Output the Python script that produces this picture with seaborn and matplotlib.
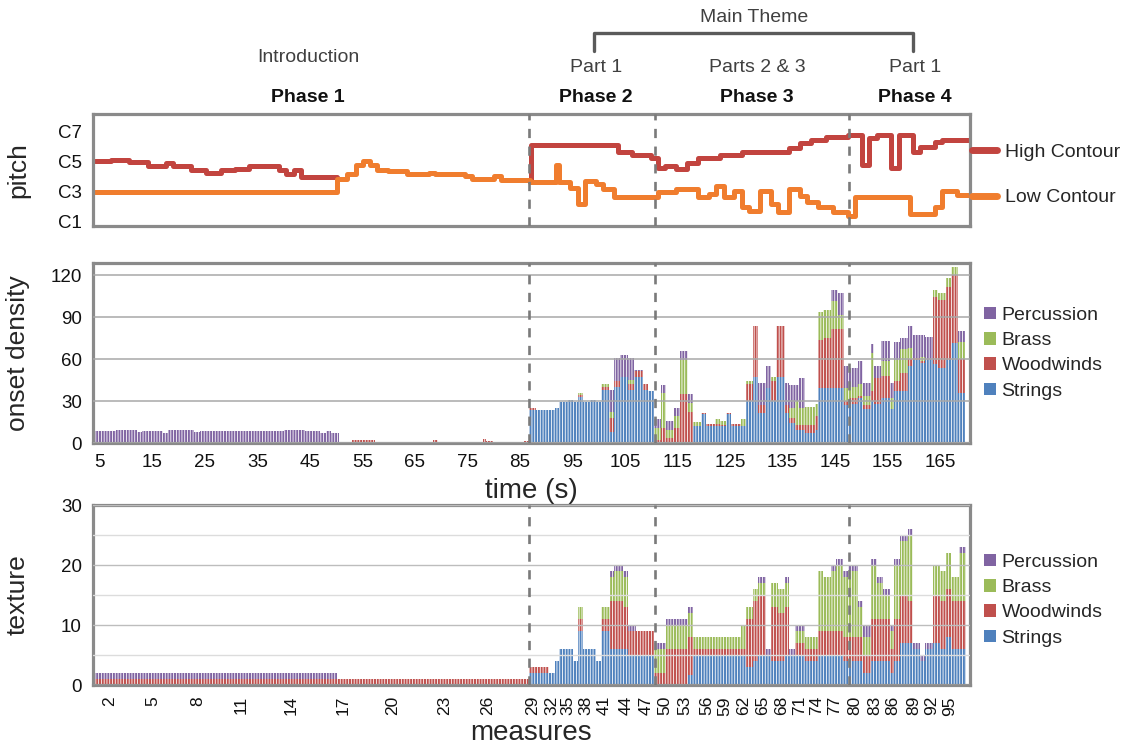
import numpy as np
import pandas as pd
import matplotlib
matplotlib.use("Agg")
import matplotlib.pyplot as plt
from matplotlib.lines import Line2D
from matplotlib.patches import Patch
import seaborn as sns

# ---------------- data ----------------
instruments = ["Percussion", "Brass", "Woodwinds", "Strings"]
inst_colors = ["#8064A2", "#9BBB59", "#C0504D", "#4F81BD"]
high_color = "#C2443F"
low_color = "#F07D2E"

# pitch contours (MIDI note numbers, step changes at given times in s)
high_a_t = [4.0, 7.2, 10.6, 14.1, 17.6, 19.0, 22.4, 25.2, 28.0, 30.8, 33.5, 39.1, 40.5, 41.9, 43.3, 50.2]
high_a_v = [72, 72.8, 71.5, 68, 70.7, 68, 65.5, 63, 65, 66.3, 68, 65.5, 61.6, 65.5, 59.5, 59.5]
high_b_t = [87.0, 87.1, 103.6, 106.4, 109.9, 111.3, 112.7, 114.7, 116.8, 118.9, 123.1, 127.2, 136.3,
            138.3, 140.4, 143.2, 147.4, 150.1, 151.5, 152.9, 155.7, 157.1, 159.9, 161.2, 164.0,
            165.4, 171.0]
high_b_v = [55.6, 85, 79.8, 77, 74.6, 67, 68, 66.2, 70.4, 74.6, 77, 79.3, 82.4,
            86.3, 89, 91.5, 92.8, 69.4, 90.4, 92.8, 67, 92.8, 79.8, 83.7, 87.6,
            89, 89]
low_t = [4.0, 50.2, 52.0, 53.7, 55.1, 56.4, 57.8, 59.9, 63.4, 67.6, 68.9, 74.5, 75.9, 80.0, 81.4,
         87.0, 91.8, 92.5, 94.6, 96.0, 97.4, 99.5, 100.9, 102.9, 111.3, 114.7, 118.9, 121.0,
         122.4, 123.8, 125.8, 127.2, 128.6, 130.7, 132.8, 134.2, 136.3, 138.3, 139.7, 141.8,
         144.6, 147.4, 148.8, 159.2, 164.0, 165.4, 168.2, 171.0]
low_v = [48, 57.7, 61.6, 69.4, 72, 69.4, 65.5, 64.2, 61.6, 62.9, 61.6, 60.3, 57.7, 60.3, 56.9,
         55.6, 69.4, 55.6, 51.2, 38.2, 56.4, 53.8, 49.9, 43.4, 48.1, 50.4, 43.4, 46,
         52.5, 43.4, 48.6, 35.6, 33, 48.6, 38.2, 31.7, 49.9, 44.7, 39.5, 35.6,
         31.7, 29.1, 43.4, 30.4, 35.6, 48.6, 45.7, 45.7]

# onset density (bins in seconds)
onset_edges = [4.0, 8.0, 10.0, 12.0, 13.0, 17.0, 18.0, 20.0, 23.0, 24.0, 40.0, 44.0, 47.0, 48.0, 49.0, 50.5,
               53.0, 57.4, 59.1, 60.1, 62.9, 68.4, 69.4, 71.1, 72.5, 76.6, 77.9, 78.5, 79.9, 83.4, 85.8, 86.7,
               88.1, 91.6, 92.5, 94.1, 95.1, 96.0, 97.0, 98.4, 99.5, 100.5, 101.9, 103.0, 104.0, 105.6,
               106.8, 108.4, 109.4, 110.5, 111.9, 112.9, 114.4, 115.4, 117.0, 117.9, 119.5, 120.5, 122.1,
               123.0, 124.3, 125.2, 127.1, 128.0, 129.4, 130.3, 131.9, 132.8, 133.8, 135.4, 136.3, 137.3,
               138.2, 139.2, 140.5, 141.1, 141.7, 142.7, 144.3, 145.5, 146.8, 147.8, 149.4, 150.3, 151.9,
               152.5, 153.8, 155.4, 156.3, 157.3, 158.9, 159.8, 161.1, 162.1, 163.6, 164.6, 166.2, 167.1,
               168.4, 169.7]
onset_strings = [0] * 15 + [0] * 16 + [
    23.5, 23.3, 25, 29, 31, 29.5, 33, 29.5, 31, 29.5, 38, 8, 40, 47, 38, 47, 38, 37.2, 0, 0, 0, 0, 0, 0,
    12.5, 20.9, 12.5, 12.5, 12.5, 20.4, 12.5, 12.5, 30, 47.3, 21.6, 39.6, 30, 47.3, 21.6, 14.4, 9.6, 9.6,
    7.2, 7.2, 9.6, 39.6, 39.6, 39.6, 39.6, 27, 27.6, 32.4, 24, 30, 27.6, 32.4, 24, 37.2, 37.2, 55, 59.3,
    56.9, 59.3, 56.4, 53.5, 59.3, 71.3, 36]
onset_woodwinds = [0, 1, 0, 0, 0, 0, 1, 0, 0, 0, 1, 0, 0, 0, 0] + \
    [1, 2.5, 1, 0, 1, 0.4, 2.5, 1, 0, 0.8, 0.5, 3, 1.5, 1, 0, 1.5] + [
    1.2, 0, 0, 0, 0, 0, 1.5, 0, 0, 0, 2, 10, 4, 0, 4, 4.5, 4, 0, 2.5, 11, 3.6, 10.8, 35.3, 22, 0, 0.7,
    1.2, 1.2, 0.5, 1.2, 1.2, 0, 12.5, 36.2, 5.4, 0, 14, 36.2, 5.4, 3.6, 3.6, 3.6, 6, 5.5, 9.6, 34.1, 35.5,
    42, 42, 3, 4.8, 1.2, 3, 7, 19.2, 15.6, 0, 7.2, 13.2, 5, 1.7, 2, 0, 48, 48.5, 52.3, 48.7, 24]
onset_brass = [0] * 15 + [0] * 16 + [
    0, 0, 0, 0, 0, 0, 1.5, 0, 0, 0, 2, 4, 0, 0, 3, 0, 0, 0, 8.5, 24.5, 6, 8.4, 24.2, 6.5, 2.5, 0, 0, 3.8,
    2.6, 0, 0, 4.8, 1.9, 0, 0, 0, 3.3, 0, 0, 7.2, 16.8, 12, 12.5, 13.3, 8.4, 19.9, 20.2, 19.9, 9.6, 9.6,
    7.6, 8.4, 6.6, 27, 0, 10.8, 8.4, 14.9, 16.8, 8, 0, 2.4, 0, 5.3, 5.5, 6.4, 5.5, 12]
onset_percussion = [8.5, 8.5, 9, 8, 8.5, 7.5, 8.5, 9, 8, 8.5, 8.5, 8.5, 7.5, 8.5, 7.5] + [0] * 16 + [
    0, 0, 0, 0, 0, 0, 0, 0, 0, 0, 0, 16, 16.5, 16, 16, 1, 0, 0, 6.5, 6, 6.4, 6, 6.5, 6.5,
    0, 0, 0, 0, 0, 0, 0, 0, 0, 0, 16.2, 15.6, 0, 0, 16.2, 16.3, 11.5, 21.1, 0, 0, 0, 0, 0,
    8.2, 16.3, 15.6, 13.5, 16.8, 9.6, 6.8, 8.2, 13.9, 10.8, 12.7, 7.9, 15.5, 16.5, 16.2, 16.3,
    0, 0, 0, 0, 8.4]

# texture (bins in seconds)
texture_edges = [4.0, 50.1, 86.7, 90.6, 91.6, 92.5, 95.1, 96.0, 97.0, 99.5, 100.5, 102.1, 103.0, 104.6,
                 105.6, 107.1, 110.5, 112.9, 117.0, 117.9, 127.1, 128.1, 129.4, 130.3, 131.9, 132.9,
                 134.1, 135.4, 136.3, 137.3, 139.2, 141.7, 142.7, 144.3, 145.2, 146.5, 147.5, 149.4,
                 150.3, 151.9, 152.9, 154.1, 155.4, 156.3, 157.3, 158.9, 159.8, 161.1, 162.1, 163.6,
                 164.9, 166.2, 167.1, 168.7, 170.0]
texture_strings = [0, 0, 2, 2, 4, 6, 4, 9, 6, 4, 9, 6, 6, 6, 5, 5, 0, 0, 1.6, 5, 5, 3, 4, 5, 5, 4, 4,
                   5, 5, 5, 4, 5, 5, 5, 5, 4, 4, 4, 2, 4, 4, 4, 2, 4, 7, 7, 6, 4, 6, 7, 6, 8, 6, 6]
texture_woodwinds = [1, 1, 1, 0, 0, 0, 0, 2, 0, 0, 2, 8, 8, 7, 4, 4, 2, 6, 6.4, 1, 1, 8, 10, 10, 0, 9, 8,
                     8, 0, 2, 2, 4, 4, 4, 4, 4, 4, 4, 3, 7, 7, 7, 4, 7, 8, 7, 0, 0, 0, 8, 8, 8, 8, 8]
texture_brass = [0, 0, 0, 0, 0, 0, 0, 2, 0, 0, 2, 4, 5, 5, 0, 0, 4, 4, 4, 2, 4, 2, 2, 2, 0, 4, 4,
                 4, 0, 2, 2, 10, 9, 10, 11, 10, 11, 5, 3, 9, 6, 4, 3, 9, 9, 11, 0, 0, 0, 5, 5, 6, 4, 8]
texture_percussion = [1, 0, 0, 0, 0, 0, 0, 0, 0, 0, 0, 1, 1, 1, 1, 0, 1, 1, 1, 0, 0, 0, 0, 1, 1, 0, 0,
                      1, 1, 1, 0, 0, 0, 1, 1, 1, 1, 1, 2, 1, 1, 1, 1, 1, 1, 1, 1, 1, 1, 0, 0, 0, 0, 1]

phase_bounds = [86.7, 110.8, 147.6]
time_ticks = list(range(5, 166, 10))
pitch_ticks = [24, 48, 72, 96]
pitch_labels = ["C1", "C3", "C5", "C7"]
measure_label_times = [6.85, 15.1, 23.7, 31.9, 41.4, 51.3, 60.8, 70.7, 78.9, 87.5, 91.0, 94.1, 97.6,
                       101.1, 105.2, 109.1, 112.6, 116.4, 120.5, 124.0, 127.5, 131.3, 134.8, 138.3,
                       141.4, 144.9, 148.7, 152.5, 156.0, 159.9, 163.4, 166.8]
measure_labels = [str(m) for m in range(2, 96, 3)]

# ---------------- style ----------------
sns.set_style("white")
plt.rcParams["font.family"] = ["Liberation Sans", "DejaVu Sans"]
plt.rcParams["hatch.linewidth"] = 0.6

W, H = 1139, 749
fig = plt.figure(figsize=(W / 100, H / 100), dpi=100)

def box(l, t, r, b):
    return [l / W, 1 - b / H, (r - l) / W, (b - t) / H]

ax_top = fig.add_axes(box(93, 114, 970, 226))
ax_mid = fig.add_axes(box(93, 263, 970, 443))
ax_bot = fig.add_axes(box(93, 505, 970, 685))

XLIM = (3.7, 170.7)
spine_c = "#8A8A8A"
dash_c = "#7A7A7A"
palette = dict(zip(instruments, inst_colors))


def style_axes(ax):
    for s in ax.spines.values():
        s.set_color(spine_c)
        s.set_linewidth(2.3)
    ax.tick_params(axis="both", which="both", direction="out", color=spine_c, width=1.6,
                   length=6, labelsize=13.5, labelcolor="#111111", pad=2)
    ax.set_xlim(*XLIM)
    for b in phase_bounds:
        ax.axvline(b, color=dash_c, lw=1.9, ls=(0, (3.5, 3.2)), zorder=5)


def stacked(ax, edges, series):
    edges = [float(e) for e in edges]
    mids = [(a + b) / 2 for a, b in zip(edges[:-1], edges[1:])]
    frames = [pd.DataFrame({"t": mids, "value": vals, "instrument": name})
              for name, vals in series.items()]
    df = pd.concat(frames, ignore_index=True)
    sns.histplot(data=df, x="t", weights="value", hue="instrument", hue_order=instruments,
                 palette=palette, multiple="stack", bins=edges, element="bars", stat="count",
                 alpha=1, linewidth=0, edgecolor="white", hatch="||||||", legend=False, ax=ax)


# ---- top: pitch contours ----
sns.lineplot(x=high_a_t, y=high_a_v, drawstyle="steps-post", color=high_color, lw=3.6,
             estimator=None, ax=ax_top)
sns.lineplot(x=high_b_t, y=high_b_v, drawstyle="steps-post", color=high_color, lw=3.6,
             estimator=None, ax=ax_top)
sns.lineplot(x=low_t, y=low_v, drawstyle="steps-post", color=low_color, lw=3.6,
             estimator=None, ax=ax_top)
style_axes(ax_top)
ax_top.set_ylim(20.8, 109.5)
ax_top.set_yticks(pitch_ticks)
ax_top.set_yticklabels(pitch_labels)
ax_top.set_xticks(time_ticks)
ax_top.set_xticklabels([])
ax_top.set_xlabel("")
ax_top.set_ylabel("pitch", fontsize=19)
ax_top.yaxis.set_label_coords(-0.072, 0.5)

# ---- middle: onset density ----
stacked(ax_mid, onset_edges, {"Percussion": onset_percussion, "Brass": onset_brass,
                              "Woodwinds": onset_woodwinds, "Strings": onset_strings})
style_axes(ax_mid)
ax_mid.set_ylim(0, 128.7)
ax_mid.set_yticks([0, 30, 60, 90, 120])
ax_mid.set_xticks(time_ticks)
ax_mid.set_xticklabels([str(t) for t in time_ticks])
ax_mid.set_axisbelow(False)
ax_mid.yaxis.grid(True, color="#A8A8A8", lw=1.1)
ax_mid.xaxis.grid(False)
ax_mid.set_xlabel("time (s)", fontsize=20, labelpad=5)
ax_mid.set_ylabel("onset density", fontsize=19)
ax_mid.yaxis.set_label_coords(-0.072, 0.5)

# ---- bottom: texture ----
stacked(ax_bot, texture_edges, {"Percussion": texture_percussion, "Brass": texture_brass,
                                "Woodwinds": texture_woodwinds, "Strings": texture_strings})
style_axes(ax_bot)
ax_bot.set_ylim(0, 30)
ax_bot.set_yticks([0, 10, 20, 30])
ax_bot.set_yticks([5, 15, 25], minor=True)
ax_bot.set_axisbelow(False)
ax_bot.yaxis.grid(True, which="major", color="#BDBDBD", lw=1.0)
ax_bot.yaxis.grid(True, which="minor", color="#DCDCDC", lw=1.0)
ax_bot.xaxis.grid(False, which="both")
mt = np.asarray(measure_label_times)
step = np.diff(mt)
minor = np.concatenate([mt[:-1] + step / 3, mt[:-1] + 2 * step / 3,
                        [mt[-1] + step[-1] / 3, mt[-1] + 2 * step[-1] / 3]])
ax_bot.set_xticks(mt)
ax_bot.set_xticklabels(measure_labels, rotation=90, fontsize=12.5)
ax_bot.set_xticks(minor, minor=True)
ax_bot.set_xlabel("measures", fontsize=20, labelpad=3)
ax_bot.set_ylabel("texture", fontsize=19)
ax_bot.yaxis.set_label_coords(-0.072, 0.5)

# ---- legends ----
fig.legend(handles=[Line2D([], [], color=high_color, lw=5), Line2D([], [], color=low_color, lw=5)],
           labels=["High Contour", "Low Contour"], loc="upper left",
           bbox_to_anchor=(972 / W, 1 - 143 / H), frameon=False, fontsize=14,
           handlelength=1.3, handletextpad=0.4, labelspacing=1.45, borderpad=0, borderaxespad=0)
for ytop in (307, 554):
    fig.legend(handles=[Patch(facecolor=c, edgecolor="none") for c in inst_colors],
               labels=instruments, loc="upper left", bbox_to_anchor=(984 / W, 1 - ytop / H),
               frameon=False, fontsize=14, handlelength=0.6, handleheight=0.6,
               handletextpad=0.3, labelspacing=0.42, borderpad=0, borderaxespad=0)

# ---- section annotations ----
def ftext(x, y, s, **kw):
    fig.text(x / W, 1 - y / H, s, ha="center", va="center", **kw)

ftext(754, 18, "Main Theme", fontsize=14, color="#404040")
fig.add_artist(Line2D([594 / W, 594 / W, 913 / W, 913 / W],
                      [1 - 51 / H, 1 - 33 / H, 1 - 33 / H, 1 - 51 / H],
                      color="#5A5A5A", lw=2.4, transform=fig.transFigure))
ftext(308, 58, "Introduction", fontsize=14, color="#404040")
ftext(596, 67, "Part 1", fontsize=14, color="#404040")
ftext(757, 67, "Parts 2 & 3", fontsize=14, color="#404040")
ftext(915, 67, "Part 1", fontsize=14, color="#404040")
for x, s in [(308, "Phase 1"), (596, "Phase 2"), (757, "Phase 3"), (915, "Phase 4")]:
    ftext(x, 97, s, fontsize=14, fontweight="bold", color="#111111")

fig.savefig("out.png", dpi=100)
